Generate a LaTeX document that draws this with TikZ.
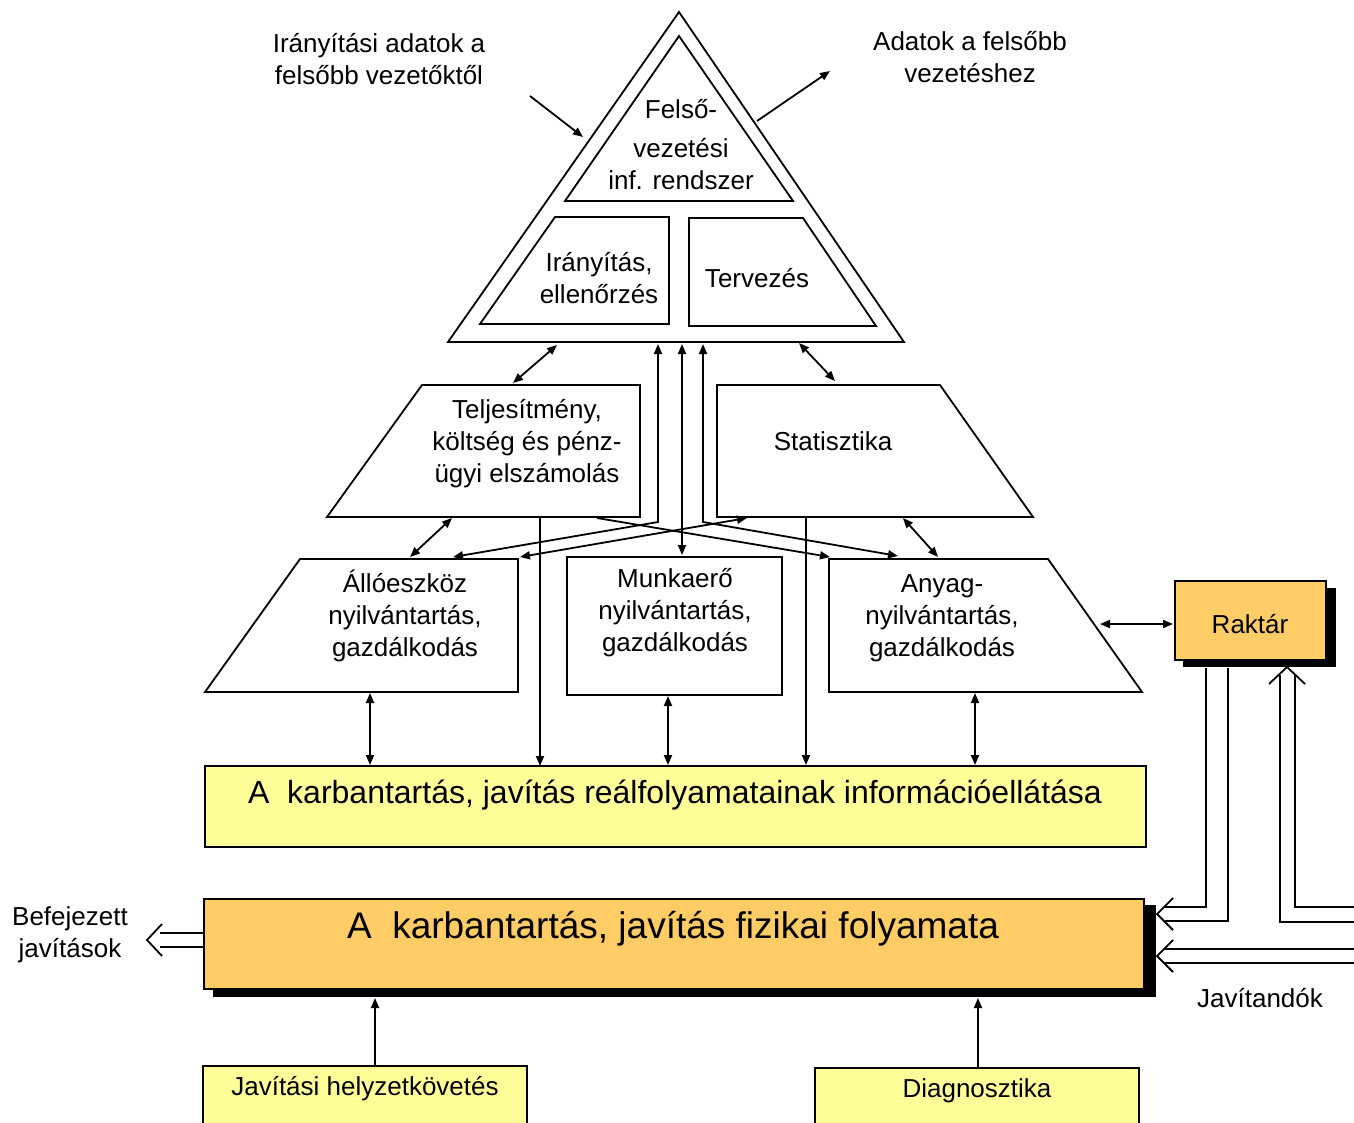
\documentclass[tikz,border=0pt]{standalone}
\usepackage{fontspec}
\setmainfont{Liberation Sans}
\usetikzlibrary{arrows.meta}
\definecolor{paleyellow}{RGB}{255,255,153}
\definecolor{paleorange}{RGB}{255,204,102}
\begin{document}
\begin{tikzpicture}[x=1pt,y=-1pt,
  outline/.style={line width=1.8pt, line join=miter},
  conn/.style={line width=1.8pt, line join=miter, -{Triangle[length=10pt,width=8pt]}},
  biconn/.style={line width=1.8pt, line join=miter, {Triangle[length=10pt,width=8pt]}-{Triangle[length=10pt,width=8pt]}},
  hollow/.style={line width=1.8pt, line join=miter},
  lbl/.style={font=\fontsize{26}{32}\selectfont, align=center, inner sep=0pt},
  biglbl/.style={font=\fontsize{37}{44}\selectfont, inner sep=0pt},
  midlbl/.style={font=\fontsize{32}{38}\selectfont, inner sep=0pt},
  shadowbox/.style={fill=black, draw=none},
]
\useasboundingbox (0,0) rectangle (1354,1122);
\clip (0,0) rectangle (1354,1122);

% ---------- pyramid ----------
\draw[outline] (679,12) -- (904,342) -- (448,342) -- cycle;
\draw[outline] (679,36) -- (793,201) -- (565,201) -- cycle;
\draw[outline] (555,217) -- (669,217) -- (669,324) -- (480,324) -- cycle;
\draw[outline] (689,218) -- (803,218) -- (876,326) -- (689,326) -- cycle;

\node[lbl] (felso) at (681,145) {Felső-\\[7pt]vezetési\\inf. rendszer};
\node[lbl] (iranyitas) at (599,278) {Irányítás,\\ellenőrzés};
\node[lbl] (tervezes) at (757,278) {Tervezés};

\node[lbl] (inadat) at (379,59) {Irányítási adatok a\\felsőbb vezetőktől};
\node[lbl] (outadat) at (970,57) {Adatok a felsőbb\\vezetéshez};

% ---------- second row ----------
\draw[outline] (422,385) -- (640,385) -- (640,517) -- (327,517) -- cycle;
\draw[outline] (717,385) -- (940,385) -- (1033,517) -- (717,517) -- cycle;
\node[lbl] (teljes) at (527,444) {Teljesítmény,\\költség és pénz-\\ügyi elszámolás};
\node[lbl] (stat) at (833,441) {Statisztika};

% ---------- third row ----------
\draw[outline] (300,559) -- (518,559) -- (518,692) -- (205,692) -- cycle;
\draw[line width=1.5pt] (567,557) rectangle (782,695);
\draw[outline] (829,559) -- (1048,559) -- (1142,692) -- (829,692) -- cycle;
\node[lbl] (allo) at (405,616) {Állóeszköz\\nyilvántartás,\\gazdálkodás};
\node[lbl] (munka) at (675,613) {Munkaerő\\nyilvántartás,\\gazdálkodás};
\node[lbl] (anyag) at (942,618) {Anyag-\\nyilvántartás,\\gazdálkodás};

% ---------- Raktar ----------
\fill[shadowbox] (1183,588) rectangle (1336,667);
\draw[line width=1.5pt, fill=paleorange] (1175,581) rectangle (1326,660);
\node[lbl] (raktar) at (1250,624) {Raktár};

% ---------- info box ----------
\draw[line width=1.5pt, fill=paleyellow] (205,766) rectangle (1146,847);
\node[midlbl] (info) at (675,795) {A\ \ karbantartás, javítás reálfolyamatainak információellátása};

% ---------- physical process ----------
\fill[shadowbox] (213,905) rectangle (1156,997);
\draw[line width=1.5pt, fill=paleorange] (204,899) rectangle (1144,989);
\node[biglbl] (fizikai) at (673,929) {A\ \ karbantartás, javítás fizikai folyamata};

% ---------- bottom boxes ----------
\draw[line width=1.5pt, fill=paleyellow] (203,1066) rectangle (527,1140);
\draw[line width=1.5pt, fill=paleyellow] (815,1068) rectangle (1139,1140);
\node[lbl] (helyzet) at (365,1089) {Javítási helyzetkövetés};
\node[lbl] (diag) at (977,1091) {Diagnosztika};

\node[lbl] (befejezett) at (70,935) {Befejezett\\javítások};
\node[lbl] (javitandok) at (1260,998) {Javítandók};

% ---------- connector end points ----------
\coordinate (inS) at (530,96);   \coordinate (inE) at (583,137);
\coordinate (outS) at (757,121); \coordinate (outE) at (830,71);
\coordinate (tA) at (513,383);   \coordinate (tB) at (557,345);
\coordinate (sA) at (799,343);   \coordinate (sB) at (835,381);
\coordinate (v1top) at (658,344); \coordinate (v1bend) at (658,522); \coordinate (v1end) at (453,557);
\coordinate (v2top) at (682,344); \coordinate (v2end) at (682,555);
\coordinate (v3top) at (703,344); \coordinate (v3bend) at (703,522); \coordinate (v3end) at (898,556);
\coordinate (teS) at (597,518);  \coordinate (teE) at (830,557);
\coordinate (stA) at (747,518);  \coordinate (stB) at (520,557);
\coordinate (taA) at (452,518);  \coordinate (taB) at (410,557);
\coordinate (saA) at (903,518);  \coordinate (saB) at (938,557);
\coordinate (teD) at (540,518);  \coordinate (teDE) at (540,766);
\coordinate (stD) at (806,518);  \coordinate (stDE) at (806,765);
\coordinate (alD) at (370,693);  \coordinate (alDE) at (370,765);
\coordinate (muD) at (668,696);  \coordinate (muDE) at (668,765);
\coordinate (anD) at (975,693);  \coordinate (anDE) at (975,765);
\coordinate (anR) at (1100,624); \coordinate (rkL) at (1173,624);
\coordinate (hU) at (375,1066);  \coordinate (hUE) at (375,998);
\coordinate (dU) at (978,1068);  \coordinate (dUE) at (978,998);

% ---------- thin connectors ----------
\draw[conn] (inS) -- (inE);
\draw[conn] (outS) -- (outE);
\draw[biconn] (tA) -- (tB);
\draw[biconn] (sA) -- (sB);
\draw[biconn] (v1end) -- (v1bend) -- (v1top);
\draw[biconn] (v2top) -- (v2end);
\draw[biconn] (v3end) -- (v3bend) -- (v3top);
\draw[conn] (teS) -- (teE);
\draw[biconn] (stB) -- (stA);
\draw[biconn] (taB) -- (taA);
\draw[biconn] (saA) -- (saB);
\draw[conn] (teD) -- (teDE);
\draw[conn] (stD) -- (stDE);
\draw[biconn] (alD) -- (alDE);
\draw[biconn] (muD) -- (muDE);
\draw[biconn] (anD) -- (anDE);
\draw[biconn] (anR) -- (rkL);
\draw[conn] (hU) -- (hUE);
\draw[conn] (dU) -- (dUE);

% ---------- hollow (double line) arrows ----------
% Raktar -> physical process
\draw[hollow] (1206,668) -- (1206,907) -- (1165,907);
\draw[hollow] (1228,668) -- (1228,921) -- (1165,921);
\draw[hollow] (1173,898) -- (1157,914) -- (1173,930);
% incoming -> Raktar
\draw[hollow] (1354,907) -- (1295,907) -- (1295,675);
\draw[hollow] (1354,922) -- (1280,922) -- (1280,675);
\draw[hollow] (1269,684) -- (1287,667) -- (1305,684);
% Javitandok -> physical process
\draw[hollow] (1354,949) -- (1165,949);
\draw[hollow] (1354,963) -- (1165,963);
\draw[hollow] (1173,940) -- (1157,956) -- (1173,972);
% physical process -> Befejezett javitasok
\draw[hollow] (203,933) -- (160,933);
\draw[hollow] (203,947) -- (160,947);
\draw[hollow] (162,924) -- (147,940) -- (162,956);
\end{tikzpicture}
\end{document}
